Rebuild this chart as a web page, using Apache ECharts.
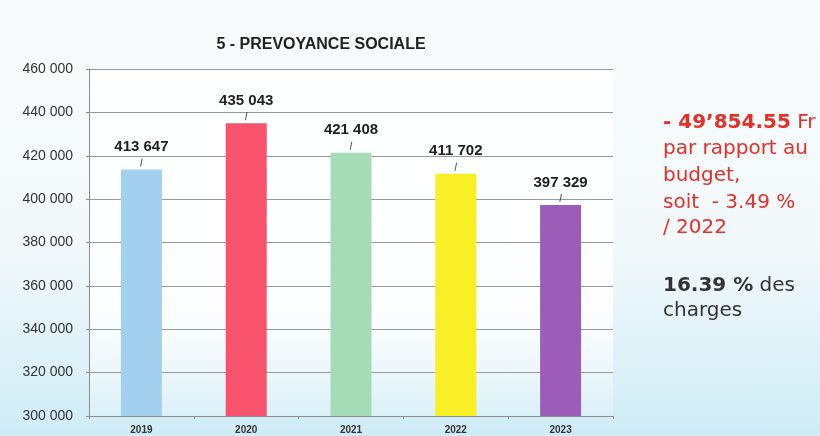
<!DOCTYPE html>
<html>
<head>
<meta charset="utf-8">
<script src="https://cdn.jsdelivr.net/npm/echarts@6/dist/echarts.min.js"></script>
<style>
    html, body { margin: 0; padding: 0; }
    body { background: linear-gradient(180deg, #f8fbfc 0%, #f3f9fb 55%, #cfecf6 100%); }
    #chart { width: 820px; height: 436px; }
</style>
</head>
<body>
<div id="chart"></div>
<script>
// data
const years = ['2019', '2020', '2021', '2022', '2023'];
const amounts = [413647, 435043, 421408, 411702, 397329];
const barColors = ['#a3d0ee', '#f7536d', '#a5dbb6', '#f8ef26', '#9b5db8'];
const yTicks = [300000, 320000, 340000, 360000, 380000, 400000, 420000, 440000, 460000];

const chartTitle = '5 - PREVOYANCE SOCIALE';

function fmt(v) {
    return String(v).replace(/\B(?=(\d{3})+(?!\d))/g, ' ');
}

const chart = echarts.init(document.getElementById('chart'));

const option = {
    animation: false,
    title: {
        text: chartTitle,
        left: 316,
        top: 32,
        textAlign: 'center',
        textStyle: {
            fontFamily: 'Liberation Sans',
            fontWeight: 'bold',
            fontSize: 16,
            color: '#222',
        },
    },
    grid: {
        left: 89,
        right: 207,
        top: 69,
        bottom: 20,
        show: true,
        borderWidth: 0,
        backgroundColor: new echarts.graphic.LinearGradient(0, 0, 0, 1, [
            { offset: 0, color: 'rgba(255,255,255,0.9)' },
            { offset: 0.7, color: 'rgba(255,255,255,0.85)' },
            { offset: 1, color: 'rgba(255,255,255,0.2)' },
        ]),
    },
    xAxis: {
        type: 'category',
        data: years,
        axisLine: { lineStyle: { color: '#8d8d8d', width: 1 } },
        axisTick: { show: true, length: 3, lineStyle: { color: '#8d8d8d' } },
        axisLabel: {
            margin: 9,
            fontFamily: 'Liberation Sans',
            fontWeight: 'bold',
            fontSize: 10,
            color: '#333',
        },
    },
    yAxis: {
        type: 'value',
        min: yTicks[0],
        max: yTicks[yTicks.length - 1],
        interval: 20000,
        axisLine: { show: true, lineStyle: { color: '#8d8d8d' } },
        axisTick: { show: true, length: 3, lineStyle: { color: '#8d8d8d' } },
        splitLine: { lineStyle: { color: '#9a9a9a', width: 1 } },
        axisLabel: {
            margin: 16,
            fontFamily: 'Liberation Sans',
            fontSize: 14,
            color: '#333',
            formatter: fmt,
        },
    },
    series: [
        {
            type: 'bar',
            data: amounts.map((v, i) => ({ value: v, itemStyle: { color: barColors[i] } })),
            barWidth: 41,
            label: {
                show: true,
                position: 'top',
                distance: 15,
                fontFamily: 'Liberation Sans',
                fontWeight: 'bold',
                fontSize: 15,
                color: '#222',
                formatter: (p) => fmt(p.value),
            },
        },
        {
            // short leader line between label and bar
            type: 'scatter',
            data: amounts,
            symbol: 'path://M1.6 0 L2.6 0 L1 10 L0 10 Z',
            symbolSize: [2.6, 8],
            symbolOffset: [0, -7],
            itemStyle: { color: '#2a2a2a' },
            silent: true,
            z: 3,
        },
    ],
    graphic: [
        {
            type: 'group',
            left: 663,
            top: 113,
            children: [
                {
                    type: 'text',
                    x: 0,
                    y: 0,
                    style: {
                        text: '{b|- 49’854.55} Fr',
                        fill: '#e5302a',
                        font: '20px "DejaVu Sans"',
                        rich: {
                            b: { fontWeight: 'bold', fontSize: 20, fontFamily: 'DejaVu Sans', fill: '#e5302a' },
                        },
                    },
                },
                { type: 'text', x: 0, y: 26, style: { text: 'par rapport au', fill: '#e5302a', font: '20px "DejaVu Sans"' } },
                { type: 'text', x: 0, y: 53, style: { text: 'budget,', fill: '#e5302a', font: '20px "DejaVu Sans"' } },
                { type: 'text', x: 0, y: 80, style: { text: 'soit  - 3.49 %', fill: '#e5302a', font: '20px "DejaVu Sans"' } },
                { type: 'text', x: 0, y: 105, style: { text: '/ 2022', fill: '#e5302a', font: '20px "DejaVu Sans"' } },
                {
                    type: 'text',
                    x: 0,
                    y: 163,
                    style: {
                        text: '{b|16.39 %} des',
                        fill: '#333',
                        font: '20px "DejaVu Sans"',
                        rich: {
                            b: { fontWeight: 'bold', fontSize: 20, fontFamily: 'DejaVu Sans', fill: '#333' },
                        },
                    },
                },
                { type: 'text', x: 0, y: 188, style: { text: 'charges', fill: '#333', font: '20px "DejaVu Sans"' } },
            ],
        },
    ],
};

chart.setOption(option);
</script>
</body>
</html>
